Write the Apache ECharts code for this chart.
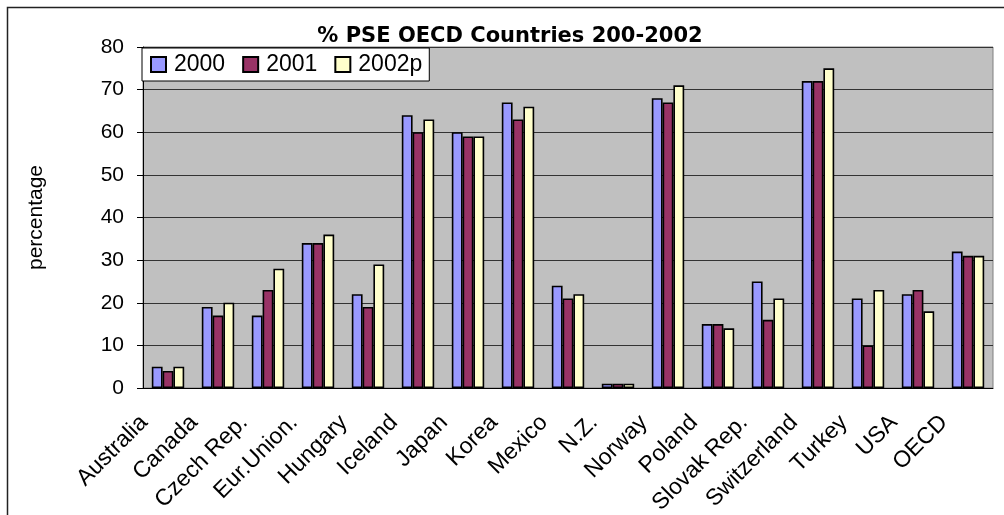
<!DOCTYPE html>
<html>
<head>
<meta charset="utf-8">
<script src="https://cdn.jsdelivr.net/npm/echarts@6/dist/echarts.min.js"></script>
<style>
  html, body { margin: 0; padding: 0; background: #fff; }
  #chart { width: 1004px; height: 515px; }
</style>
</head>
<body>
<div id="chart"></div>
<script>
// categories and values
var countries = ['Australia', 'Canada', 'Czech Rep.', 'Eur.Union.', 'Hungary', 'Iceland', 'Japan', 'Korea',
                 'Mexico', 'N.Z.', 'Norway', 'Poland', 'Slovak Rep.', 'Switzerland', 'Turkey', 'USA', 'OECD'];
var pse2000 = [5, 19, 17, 34, 22, 64, 60, 67, 24, 1, 68, 15, 25, 72, 21, 22, 32];
var pse2001 = [4, 17, 23, 34, 19, 60, 59, 63, 21, 1, 67, 15, 16, 72, 10, 23, 31];
var pse2002 = [5, 20, 28, 36, 29, 63, 59, 66, 22, 1, 71, 14, 21, 75, 23, 18, 31];
var yTicks = [0, 10, 20, 30, 40, 50, 60, 70, 80];

var font = 'Liberation Sans';

function bar(name, data, color) {
    return {
        name: name,
        type: 'bar',
        data: data,
        barWidth: 10.8,
        barGap: '0%',
        itemStyle: {color: color, borderColor: '#000', borderWidth: 1.6}
    };
}

var chart = echarts.init(document.getElementById('chart'));

chart.setOption({
    animation: false,
    backgroundColor: '#fff',
    title: {
        text: '% PSE OECD Countries 200-2002',
        left: 510,
        top: 26,
        padding: 0,
        textAlign: 'center',
        textStyle: {fontFamily: 'DejaVu Sans', fontWeight: 'bold', fontSize: 21, color: '#000'}
    },
    legend: {
        left: 142,
        top: 48,
        orient: 'horizontal',
        padding: [5, 7, 5, 8],
        itemWidth: 15,
        itemHeight: 15,
        itemGap: 17,
        icon: 'rect',
        backgroundColor: '#fff',
        borderColor: '#000',
        borderWidth: 1,
        textStyle: {fontFamily: font, fontSize: 23, color: '#000', padding: [0, 0, 0, 3]},
        data: ['2000', '2001', '2002p']
    },
    grid: {
        left: 143, right: 11, top: 47, bottom: 127,
        show: true,
        backgroundColor: '#c0c0c0',
        borderColor: '#808080',
        borderWidth: 1,
        outerBoundsMode: 'none'
    },
    xAxis: {
        type: 'category',
        data: countries,
        axisLine: {lineStyle: {color: '#000', width: 1}},
        axisTick: {length: 6, lineStyle: {color: '#000'}},
        axisLabel: {
            rotate: 45,
            interval: 0,
            margin: 7,
            padding: [0, 34, 0, 0],
            fontFamily: font,
            fontSize: 23,
            color: '#000'
        }
    },
    yAxis: {
        type: 'value',
        min: yTicks[0],
        max: yTicks[yTicks.length - 1],
        interval: 10,
        name: 'percentage',
        nameLocation: 'middle',
        nameRotate: 90,
        nameGap: 96,
        nameTextStyle: {fontFamily: font, fontSize: 21, color: '#000'},
        axisLine: {show: true, lineStyle: {color: '#000', width: 1}},
        axisTick: {show: true, length: 6, lineStyle: {color: '#000'}},
        axisLabel: {margin: 19, fontFamily: font, fontSize: 21, color: '#000'},
        splitLine: {lineStyle: {color: '#333', width: 1}}
    },
    graphic: [{
        type: 'polyline',
        silent: true,
        shape: {points: [[7.5, 515], [7.5, 7.5], [1004, 7.5]]},
        style: {stroke: '#222', lineWidth: 1.5, fill: null}
    }],
    series: [
        bar('2000', pse2000, '#9999ff'),
        bar('2001', pse2001, '#993366'),
        bar('2002p', pse2002, '#ffffcc')
    ]
});

window.onresize = function () {
    chart.resize();
};
</script>
</body>
</html>
